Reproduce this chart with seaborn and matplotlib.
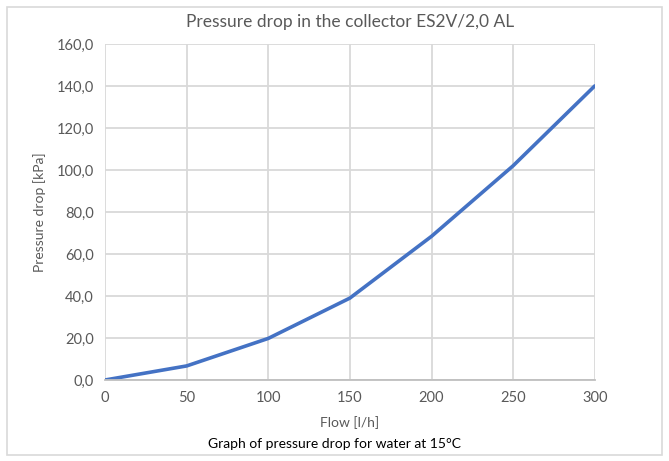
import matplotlib
matplotlib.use("Agg")
import matplotlib.pyplot as plt
from matplotlib.ticker import FuncFormatter, MultipleLocator
from matplotlib.patches import Rectangle
import seaborn as sns
import pandas as pd

flow = [0, 50, 100, 150, 200, 250, 300]
pressure_drop = [0.0, 6.7, 19.8, 39.0, 68.4, 102.0, 140.0]

sns.set_theme(style="white")
plt.rcParams["font.family"] = ["Lato", "DejaVu Sans"]

text_color = "#595959"
grid_color = "#d9d9d9"

df = pd.DataFrame({"flow": flow, "dp": pressure_drop})

fig = plt.figure(figsize=(6.69, 4.61), dpi=100)
ax = fig.add_axes([0.157, 0.1757, 0.732, 0.729])

sns.lineplot(data=df, x="flow", y="dp", ax=ax, color="#4472c4", linewidth=2.6)

ax.set_xlim(0, 300)
ax.set_ylim(0, 160)
ax.xaxis.set_major_locator(MultipleLocator(50))
ax.yaxis.set_major_locator(MultipleLocator(20))
ax.yaxis.set_major_formatter(FuncFormatter(lambda v, p: f"{v:.1f}".replace(".", ",")))

ax.grid(True, color=grid_color, linewidth=1.3)
ax.set_axisbelow(True)
for side in ["top", "right", "left"]:
    ax.spines[side].set_visible(False)
ax.spines["bottom"].set_color("#bfbfbf")
ax.spines["bottom"].set_linewidth(1.3)
ax.tick_params(axis="both", length=0, labelsize=10.5, colors=text_color, pad=8)

ax.set_xlabel("Flow [l/h]", fontsize=10, color=text_color, labelpad=8)
ax.set_ylabel("Pressure drop [kPa]", fontsize=10, color=text_color, labelpad=8)
ax.set_title("Pressure drop in the collector ES2V/2,0 AL", fontsize=12.5,
             color=text_color, pad=12)

fig.text(0.5, 0.028, "Graph of pressure drop for water at 15°C", ha="center",
         fontsize=10, color="black")

# outer chart border
fig.patches.append(Rectangle((0.011, 0.013), 0.978, 0.972, transform=fig.transFigure,
                             fill=False, edgecolor="#d9d9d9", linewidth=1.2))

fig.savefig("out.png", dpi=100)
